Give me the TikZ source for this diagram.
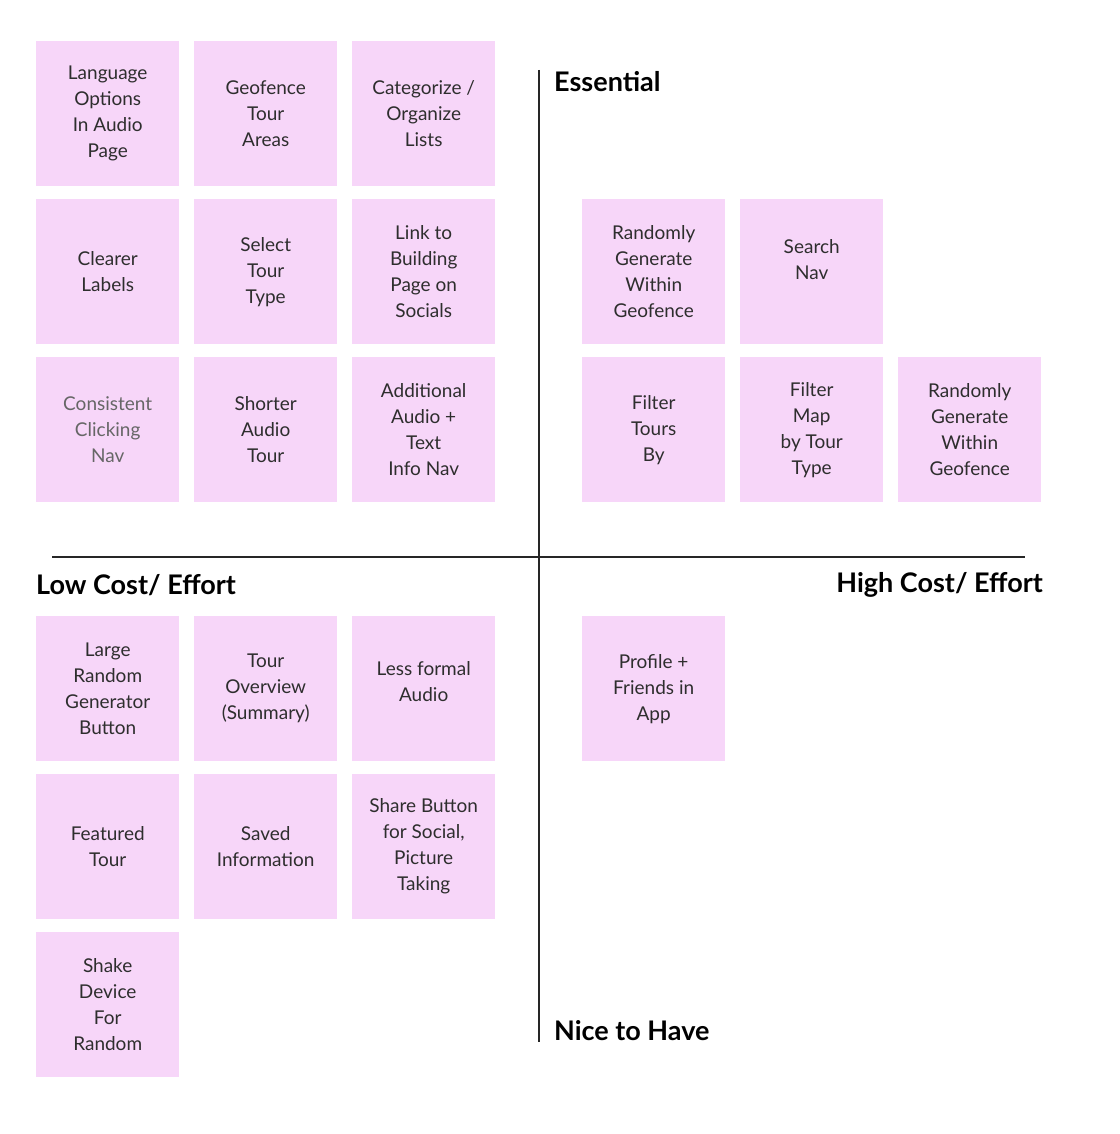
\documentclass[tikz,border=0pt]{standalone}
\usepackage{fontspec}
\setmainfont{Lato}
\begin{document}
\begin{tikzpicture}[x=1pt,y=-1pt,
  note/.style={fill=notec,draw=none,minimum width=143pt,minimum height=145pt,anchor=north west,align=center,font=\fontsize{19}{26}\selectfont,text=txt,inner sep=2pt},
  head/.style={font=\bfseries\fontsize{27}{30}\selectfont,text=black,inner sep=0pt},
  axis/.style={draw=black!85,line width=1.2pt}]
\definecolor{notec}{HTML}{F7D6F9}
\definecolor{txt}{HTML}{2E2E2E}
\fill[white] (0,0) rectangle (1119,1134);
\useasboundingbox (0,0) rectangle (1119,1134);
\node[note] (n1) at (36,41) {Language\\Options\\In Audio\\Page};
\node[note] (n2) at (194,41) {Geofence\\Tour\\Areas};
\node[note] (n3) at (352,41) {Categorize /\\Organize\\Lists};
\node[note] (n4) at (36,199) {Clearer\\Labels};
\node[note] (n5) at (194,199) {Select\\Tour\\Type};
\node[note] (n6) at (352,199) {Link to\\Building\\Page on\\Socials};
\node[note,text=black!60] (n7) at (36,357) {Consistent\\Clicking\\Nav};
\node[note] (n8) at (194,357) {Shorter\\Audio\\Tour};
\node[note] (n9) at (352,357) {Additional\\Audio +\\Text\\Info Nav};
\node[note] (n10) at (582,199) {Randomly\\Generate\\Within\\Geofence};
\node[note,text depth=24pt] (n11) at (740,199) {Search\\Nav};
\node[note] (n12) at (582,357) {Filter\\Tours\\By};
\node[note] (n13) at (740,357) {Filter\\Map\\by Tour\\Type};
\node[note] (n14) at (898,357) {Randomly\\Generate\\Within\\Geofence};
\node[note] (n15) at (36,616) {Large\\Random\\Generator\\Button};
\node[note] (n16) at (194,616) {Tour\\Overview\\(Summary)};
\node[note,text depth=14pt] (n17) at (352,616) {Less formal\\Audio};
\node[note] (n18) at (582,616) {Profile +\\Friends in\\App};
\node[note] (n19) at (36,774) {Featured\\Tour};
\node[note] (n20) at (194,774) {Saved\\Information};
\node[note] (n21) at (352,774) {Share Button\\for Social,\\Picture\\Taking};
\node[note] (n22) at (36,932) {Shake\\Device\\For\\Random};
\coordinate (vt) at (539,70); \coordinate (vb) at (539,1042);
\coordinate (hl) at (52,557); \coordinate (hr) at (1025,557);
\draw[axis] (vt) -- (vb);
\draw[axis] (hl) -- (hr);
\node[head,anchor=west] (ess) at (554,82) {Essential};
\node[head,anchor=west] (low) at (36,585) {Low Cost/ Effort};
\node[head,anchor=east] (high) at (1043,585) {High Cost/ Effort};
\node[head,anchor=west] (nice) at (554,1031) {Nice to Have};
\end{tikzpicture}
\end{document}
